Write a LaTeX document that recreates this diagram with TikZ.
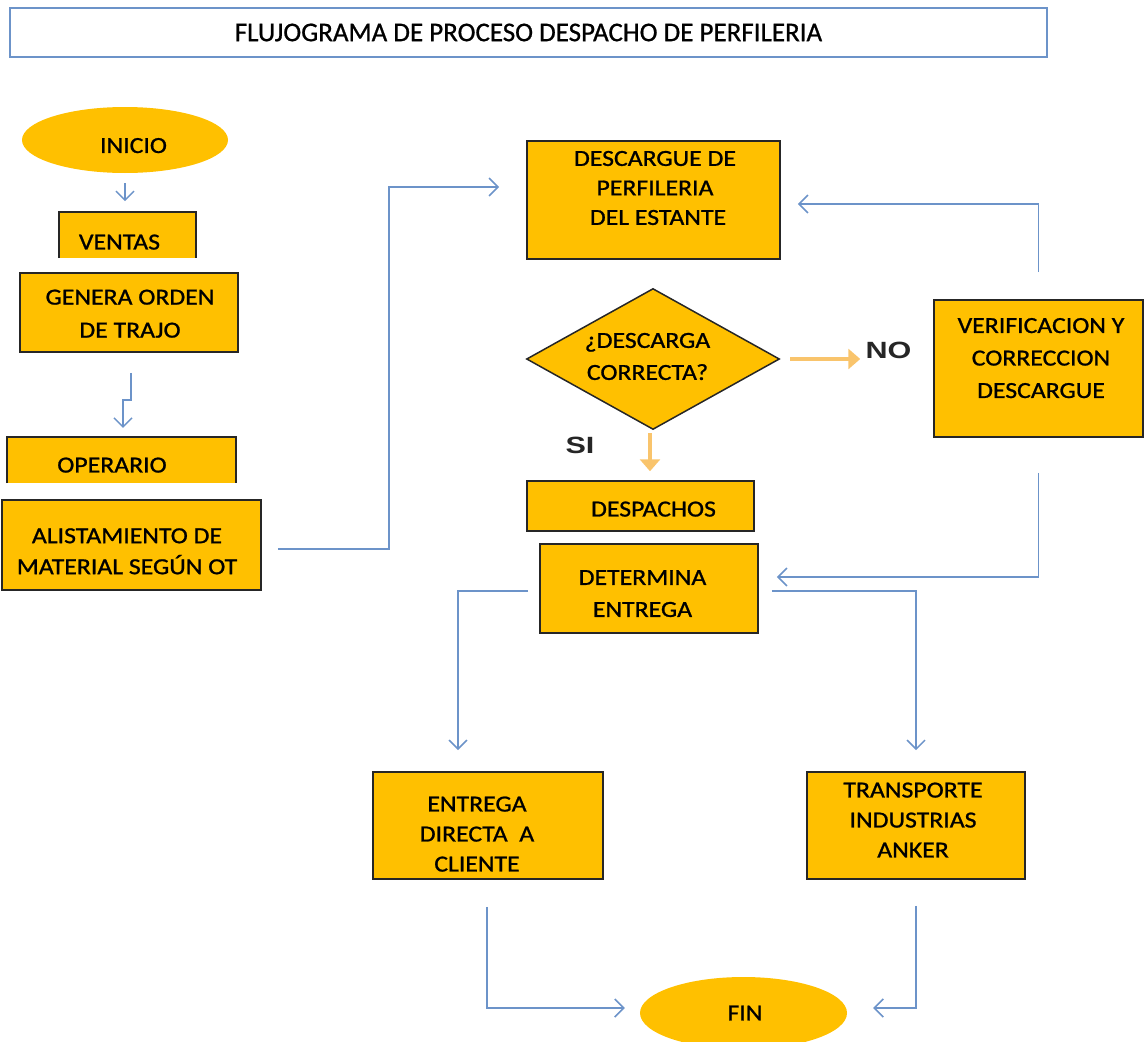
\documentclass[tikz,border=0pt]{standalone}
\usepackage{fontspec}
\setmainfont{Carlito}[FakeStretch=1.12,FakeBold=1]
\newfontfamily\titlefont{Carlito}[FakeBold=0.8]
\newfontfamily\arialfont{Liberation Sans}[FakeStretch=1.3]
\usetikzlibrary{arrows.meta,shapes.geometric,calc}
\definecolor{boxyellow}{HTML}{FFC000}
\definecolor{boxline}{HTML}{262626}
\definecolor{connblue}{HTML}{6C93C9}
\definecolor{lightorange}{HTML}{F9C46C}
% multi-line text block with given line distance
\newcommand\mlines[2][30]{{\fontsize{23}{#1}\selectfont\begin{tabular}{@{}c@{}}#2\end{tabular}}}
% text placed dx right and dy down from the node centre: \placetext[linedist]{dx}{dy}{text}
\newcommand\placetext[4][30]{\raisebox{\dimexpr -#3pt - 7.2pt\relax}[0pt][0pt]{\makebox[0pt]{\hspace*{\dimexpr #2pt + #2pt\relax}\mlines[#1]{#4}}}}
\begin{document}
\begin{tikzpicture}[x=1pt,y=-1pt,
  txt/.style={font=\fontsize{23}{30}\selectfont, text=black, align=center},
  procbox/.style={rectangle, draw=boxline, line width=1.8pt, fill=boxyellow, inner sep=0pt, txt},
  openbox/.style={rectangle, fill=boxyellow, inner sep=0pt, txt},
  terminal/.style={ellipse, fill=boxyellow, inner sep=0pt, txt},
  decision/.style={diamond, draw=boxline, line width=1.5pt, fill=boxyellow, inner sep=0pt, txt},
  conn/.style={draw=connblue, line width=1.5pt, -{Straight Barb[length=9pt,width=18pt,line width=1.5pt]}},
  orangearrow/.style={draw=lightorange, line width=3.5pt, -{Triangle[length=12pt,width=20pt]}},
  yesno/.style={font=\arialfont\bfseries\fontsize{23.5}{26}\selectfont, text=boxline, inner sep=0pt}
]
\useasboundingbox (0,0) rectangle (1145,1041);

% title
\node[draw=connblue, line width=1.6pt, minimum width=1037pt, minimum height=49pt, inner sep=0pt,
      font=\titlefont\fontsize{27}{30}\selectfont] (title) at (528.5,32.5) {FLUJOGRAMA DE PROCESO DESPACHO DE PERFILERIA};

% left column
\node[terminal, minimum width=206pt, minimum height=66pt] (inicio) at (125,140) {\placetext{8.5}{6}{INICIO}};
\node[openbox, minimum width=137pt, minimum height=46pt] (ventas) at (127.5,235) {\placetext{-8}{7.5}{VENTAS}};
\draw[boxline, line width=1.8pt] (ventas.south west) -- (ventas.north west) -- (ventas.north east) -- (ventas.south east);
\node[procbox, minimum width=218pt, minimum height=79pt] (genera) at (129,312.5) {\placetext[33]{1}{1}{GENERA ORDEN\\DE TRAJO}};
\node[openbox, minimum width=229pt, minimum height=46pt] (operario) at (121.5,460) {\placetext{-9.5}{5.5}{OPERARIO}};
\draw[boxline, line width=1.8pt] (operario.south west) -- (operario.north west) -- (operario.north east) -- (operario.south east);
\node[procbox, minimum width=259pt, minimum height=90pt] (alist) at (131.5,545) {\placetext[31]{-4.5}{6.5}{ALISTAMIENTO DE\\MATERIAL SEGÚN OT}};

% centre column
\node[procbox, minimum width=253pt, minimum height=118pt] (descargue) at (653.5,200) {\placetext[29.5]{1.5}{-11.5}{DESCARGUE DE\\PERFILERIA\\\hspace*{6pt}DEL ESTANTE}};
\node[decision, minimum width=253pt, minimum height=141pt] (dia) at (653,359) {\placetext[32]{-5.5}{-2.5}{¿DESCARGA\\CORRECTA?}};
\node[procbox, minimum width=227pt, minimum height=50pt] (despachos) at (640.5,506) {\placetext{13}{3.5}{DESPACHOS}};
\node[procbox, minimum width=218pt, minimum height=89pt] (determina) at (649,588.5) {\placetext[32]{-6.5}{5}{DETERMINA\\ENTREGA}};
\node[procbox, minimum width=209pt, minimum height=137pt] (verif) at (1038.5,368.5) {\placetext[32.5]{2.5}{-10.5}{VERIFICACION Y\\CORRECCION\\DESCARGUE}};

% bottom
\node[procbox, minimum width=230pt, minimum height=107pt] (entrega) at (488,825.5) {\placetext{-11}{9}{ENTREGA\\DIRECTA\ \ A\\CLIENTE}};
\node[procbox, minimum width=218pt, minimum height=107pt] (transporte) at (916,825.5) {\placetext{-3}{-5}{TRANSPORTE\\INDUSTRIAS\\ANKER}};
\node[terminal, minimum width=207pt, minimum height=72pt] (fin) at (743.5,1013) {\placetext{1.5}{0.5}{FIN}};

% labels
\node[yesno] (no) at (888.5,350) {NO};
\node[yesno] (si) at (580,445) {SI};

% connectors
\draw[conn] ([yshift=-10pt]inicio.south) -- ++(0,18);
\draw[conn] ([xshift=2pt,yshift=-20pt]genera.south) -- ++(0,27) -- ++(-8,0) -- ++(0,28);
\draw[conn] ([xshift=16pt,yshift=-4pt]alist.east) -- ++(111,0) |- ([xshift=-27pt,yshift=13pt]descargue.west);
\draw[conn] ([yshift=27pt]verif.north) |- ([xshift=17pt,yshift=-4pt]descargue.east);
\draw[orangearrow] ([xshift=10pt]dia.east) -- ++(70,0);
\draw[orangearrow] ([xshift=-3pt,yshift=-3pt]dia.south) -- ++(0,38);
\draw[conn] ([yshift=-35pt]verif.south) |- ([xshift=18pt,yshift=11.5pt]determina.east);
\draw[conn] ([xshift=-11pt,yshift=-2.5pt]determina.west) -| ([xshift=-30pt,yshift=21pt]entrega.north);
\draw[conn] ([xshift=13pt,yshift=-2.5pt]determina.east) -| ([yshift=21pt]transporte.north);
\draw[conn] ([xshift=-1pt,yshift=-27pt]entrega.south) |- ([xshift=-15pt,yshift=5pt]fin.west);
\draw[conn] ([yshift=-26pt]transporte.south) |- ([xshift=26pt,yshift=5pt]fin.east);
\end{tikzpicture}
\end{document}
